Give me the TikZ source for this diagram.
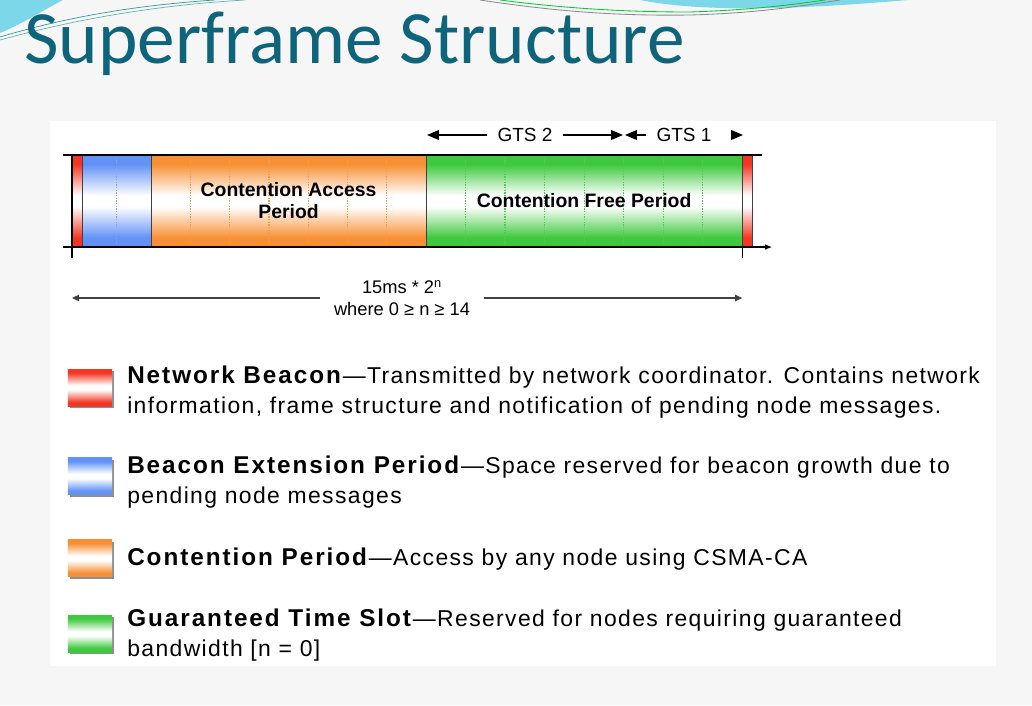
\documentclass[tikz,border=0pt]{standalone}
\usepackage{fontspec}
\setmainfont{Liberation Sans}
\newfontfamily\titlefont{Carlito}
\newfontfamily\keyfont[LetterSpace=6, BoldFeatures={Scale=1.06, LetterSpace=8}]{Liberation Sans}
\usepackage{tikz}
\usetikzlibrary{arrows.meta,positioning,calc,shadows}

\definecolor{beaconred}{RGB}{242,54,34}
\definecolor{extblue}{RGB}{98,146,246}
\definecolor{contorange}{RGB}{247,144,52}
\definecolor{gtsgreen}{RGB}{62,200,62}
\definecolor{titleteal}{RGB}{14,100,122}
\definecolor{swoosh}{RGB}{124,216,232}
\definecolor{slidebg}{RGB}{246,246,246}
\colorlet{bandcol}{white}
\pgfdeclareverticalshading[bandcol]{band}{100bp}{color(0bp)=(bandcol); color(30bp)=(bandcol);
  color(47bp)=(white); color(53bp)=(white); color(70bp)=(bandcol); color(100bp)=(bandcol)}

\begin{document}
\begin{tikzpicture}[
  x=0.025cm, y=-0.025cm, node distance=0pt,
  band/.style={/utils/exec={\colorlet{bandcol}{#1}}, shading=band},
  seg/.style={draw=black!75, line width=0.6pt, minimum height=2.3cm,
              inner sep=0pt, outer sep=0pt},
  divider/.style={densely dotted, line width=0.9pt, #1},
  barlabel/.style={font=\fontsize{13.8}{15.6}\selectfont\bfseries, align=center},
  gts/.style={font=\fontsize{13.5}{16}\selectfont, inner sep=7pt},
  gtsarrow/.style={-{Triangle[length=8.5pt, width=7pt]}, line width=0.9pt},
  span/.style={-{Triangle[length=5pt, width=4.5pt]}, line width=0.9pt, black!75},
  key/.style={minimum width=1.1cm, minimum height=0.925cm, inner sep=0pt,
              drop shadow={shadow xshift=0.05cm, shadow yshift=-0.05cm,
                           fill=black!55, opacity=0.8}},
  keytext/.style={font=\keyfont\fontsize{16.3}{21.3}\selectfont, align=left,
                  inner sep=0pt, anchor=base west}
]
\useasboundingbox (0,0) rectangle (1032,705);
\fill[slidebg] (0,0) rectangle (1032,705);
\fill[white] (50,121) rectangle (996,666);

\fill[swoosh] (0,0) -- (63,0) .. controls (40,12) and (20,25) .. (0,33) -- cycle;
\draw[teal!80, line width=0.5pt] (0,37) .. controls (70,16) and (140,5) .. (215,0);
\draw[teal!60, line width=0.5pt] (0,40) .. controls (80,18) and (160,5) .. (245,0);
\fill[swoosh] (640,0) .. controls (690,10) and (770,12) .. (908,0) -- cycle;
\draw[black!45, line width=0.6pt] (480,0) .. controls (560,12) and (620,16) .. (690,15)
  .. controls (760,13) and (800,6) .. (840,0);
\draw[green!60!teal, line width=0.6pt] (500,0) .. controls (570,9) and (630,12) .. (690,12)
  .. controls (750,10) and (790,5) .. (825,0);

\node[font=\titlefont\fontsize{53.5}{60}\selectfont, text=titleteal, anchor=base west,
      inner sep=0pt] (title) at (24,63) {Superframe Structure};

\node[seg, band=beaconred, minimum width=0.25cm, anchor=north west] (nb1) at (72,155) {};
\node[seg, band=extblue, minimum width=1.725cm, right=of nb1] (bep) {};
\node[seg, band=contorange, minimum width=6.875cm, right=of bep] (cap) {};
\node[seg, band=gtsgreen, minimum width=7.9cm, right=of cap] (cfp) {};
\node[seg, band=beaconred, minimum width=0.25cm, right=of cfp] (nb2) {};

\draw[divider=extblue!80] (bep.north) -- (bep.south);
\foreach \i in {1,...,6}
  \draw[divider=contorange!90] ($(cap.north west)!\i/7!(cap.north east)$)
    -- ($(cap.south west)!\i/7!(cap.south east)$);
\foreach \i in {1,...,7}
  \draw[divider=gtsgreen!90] ($(cfp.north west)!\i/8!(cfp.north east)$)
    -- ($(cfp.south west)!\i/8!(cfp.south east)$);

\node[barlabel] (caplabel) at (cap) {Contention Access\\Period};
\node[barlabel] (cfplabel) at (cfp) {Contention Free Period};

\draw[line width=0.8pt] ($(nb1.north west)+(-9,0)$) -- ($(nb2.north east)+(10,0)$);
\draw[line width=0.8pt, -{Latex[length=5pt, width=4pt]}]
  ($(nb1.south west)+(-9,0)$) -- ($(nb2.south east)+(20,0)$);
\draw[line width=0.8pt] (nb1.north west) -- ++(0,103);
\draw[line width=0.8pt] (nb2.south west) -- ++(0,11);

\node[gts] (gts2) at (525,135) {GTS 2};
\node[gts] (gts1) at (684,135) {GTS 1};
\coordinate (g2a) at (427,135);
\coordinate (g2b) at (623,135);
\coordinate (g1a) at (625,135);
\coordinate (g1b) at (743,135);
\draw[gtsarrow] (gts2) -- (g2a);
\draw[gtsarrow] (gts2) -- (g2b);
\draw[gtsarrow] (gts1) -- (g1a);
\draw[gtsarrow, shorten <=10pt] (gts1) -- (g1b);

\node[font=\fontsize{13}{16}\selectfont, align=center, inner xsep=10pt] (period)
  at (402,298) {15ms * 2\textsuperscript{n}\\where 0 ≥ n ≥ 14};
\draw[span] (period) -- (nb1.west |- period);
\draw[span] (period) -- (nb2.west |- period);

\node[key, band=beaconred] (keybeacon) at (90,387.5) {};
\node[key, band=extblue] (keyext) at (90,476) {};
\node[key, band=contorange] (keycont) at (90,558) {};
\node[key, band=gtsgreen] (keygts) at (90,633.5) {};

\node[keytext] (txtbeacon) at (127,413) {\textbf{Network Beacon}—Transmitted by network
  coordinator. Contains network\\information, frame structure and notification of
  pending node messages.};
\node[keytext] (txtext) at (127,503) {\textbf{Beacon Extension Period}—Space reserved
  for beacon growth due to\\pending node messages};
\node[keytext] (txtcont) at (127,565) {\textbf{Contention Period}—Access by any node
  using CSMA-CA};
\node[keytext] (txtgts) at (127,656) {\textbf{Guaranteed Time Slot}—Reserved for nodes
  requiring guaranteed\\bandwidth [n = 0]};
\end{tikzpicture}
\end{document}
